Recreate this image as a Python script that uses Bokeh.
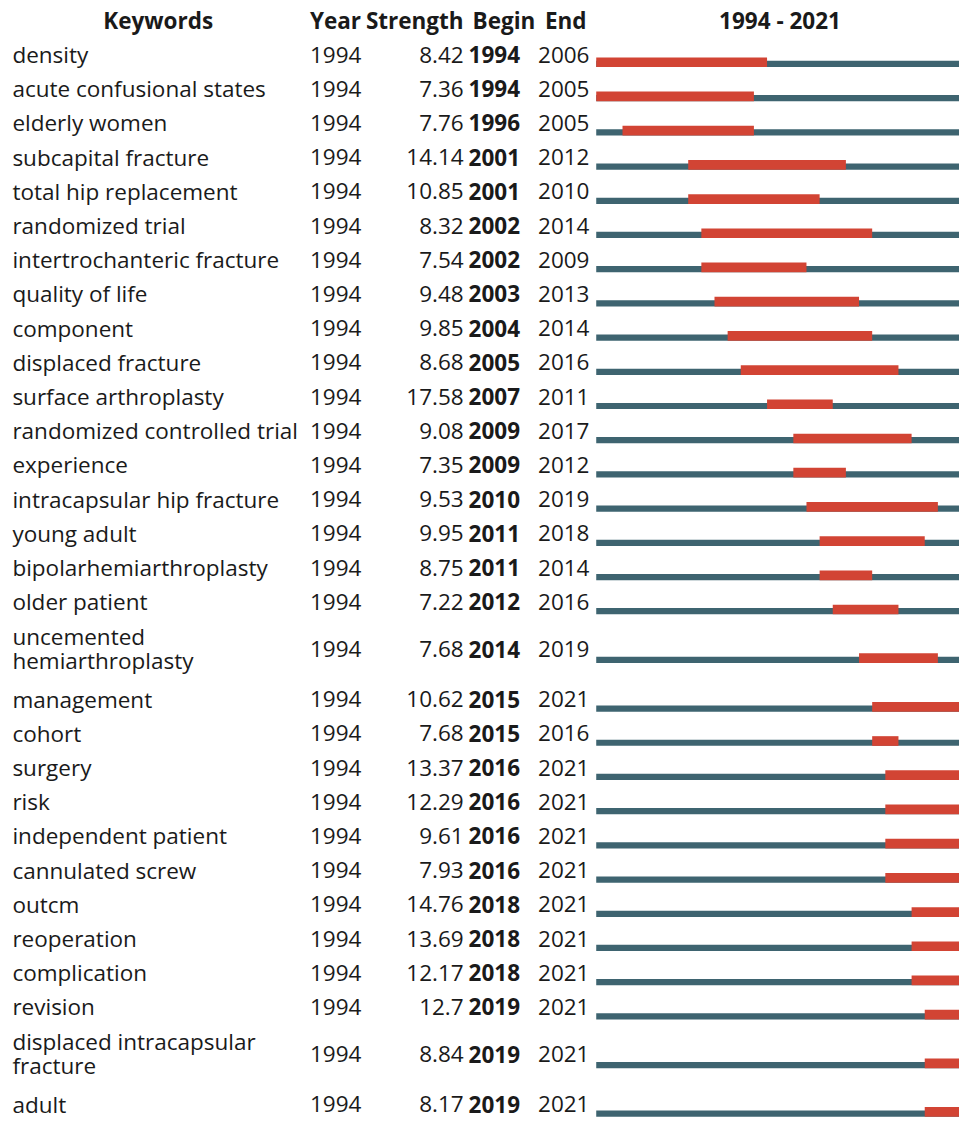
from bokeh.plotting import figure
from bokeh.models import Range1d, ColumnDataSource
from bokeh.core.properties import value
from bokeh.embed import file_html
from bokeh.resources import INLINE

# ---------------- data ----------------
keywords = [
    "density", "acute confusional states", "elderly women", "subcapital fracture",
    "total hip replacement", "randomized trial", "intertrochanteric fracture",
    "quality of life", "component", "displaced fracture", "surface arthroplasty",
    "randomized controlled trial", "experience", "intracapsular hip fracture",
    "young adult", "bipolarhemiarthroplasty", "older patient",
    "uncemented hemiarthroplasty", "management", "cohort", "surgery", "risk",
    "independent patient", "cannulated screw", "outcm", "reoperation",
    "complication", "revision", "displaced intracapsular fracture", "adult",
]
year = [1994] * 30
strength = [8.42, 7.36, 7.76, 14.14, 10.85, 8.32, 7.54, 9.48, 9.85, 8.68, 17.58,
            9.08, 7.35, 9.53, 9.95, 8.75, 7.22, 7.68, 10.62, 7.68, 13.37, 12.29,
            9.61, 7.93, 14.76, 13.69, 12.17, 12.7, 8.84, 8.17]
begin = [1994, 1994, 1996, 2001, 2001, 2002, 2002, 2003, 2004, 2005, 2007,
         2009, 2009, 2010, 2011, 2011, 2012, 2014, 2015, 2015, 2016, 2016,
         2016, 2016, 2018, 2018, 2018, 2019, 2019, 2019]
end = [2006, 2005, 2005, 2012, 2010, 2014, 2009, 2013, 2014, 2016, 2011,
       2017, 2012, 2019, 2018, 2014, 2016, 2019, 2021, 2016, 2021, 2021,
       2021, 2021, 2021, 2021, 2021, 2021, 2021, 2021]
wrapped = {
    "uncemented hemiarthroplasty": ["uncemented", "hemiarthroplasty"],
    "displaced intracapsular fracture": ["displaced intracapsular", "fracture"],
}
period_first, period_last = 1994, 2021
headers = ["Keywords", "Year", "Strength", "Begin", "End"]

# ---------------- layout (in reference-pixel units, scaled to fit) ----------------
REF_W, REF_H = 967, 1131
W, H = 959, 1119
PXY = 13.25             # reference pixels per year
X0 = 600.7              # reference pixel of period start
xmin = period_first - X0 / PXY
FONT = "Open Sans"
FS = "22.5px"
RED = "#d24434"
TEAL = "#3e6470"
TS = 8.5                # text vertical correction


def X(px):
    return xmin + px / PXY


p = figure(width=W, height=H, x_range=Range1d(xmin, xmin + REF_W / PXY),
           y_range=Range1d(REF_H, 0), output_backend="svg", toolbar_location=None,
           min_border=0)
p.axis.visible = False
p.grid.visible = False
p.outline_line_color = None
p.background_fill_color = "white"
p.border_fill_color = "white"

SINGLE, DOUBLE = 34.57, 63.8
heights = [DOUBLE if k in wrapped else SINGLE for k in keywords]
bottoms = []
b = 67.3
for i, h in enumerate(heights):
    if i > 0:
        b += (heights[i - 1] + h) / 2
    bottoms.append(b)
baselines = [v - (5.5 if k in wrapped else 4.2) - TS for v, k in zip(bottoms, keywords)]

# bars
src = ColumnDataSource(dict(
    first=[period_first] * len(keywords),
    last=[period_last + 1] * len(keywords),
    begin=begin,
    stop=[e + 1 for e in end],
    bottom=bottoms,
    teal_top=[v - 6.3 for v in bottoms],
    red_top=[v - 9.8 for v in bottoms],
))
p.quad(left="first", right="last", bottom="bottom", top="teal_top", source=src,
       fill_color=TEAL, line_color=None)
p.quad(left="begin", right="stop", bottom="bottom", top="red_top", source=src,
       fill_color=RED, line_color=None)

# keyword text
kx, ky, kt = [], [], []
for k, bl in zip(keywords, baselines):
    if k in wrapped:
        a, c = wrapped[k]
        kx += [X(12), X(12)]
        ky += [bl - 12.6, bl + 11.7]
        kt += [a, c]
    else:
        kx.append(X(12)); ky.append(bl); kt.append(k)
common = dict(text_font=value(FONT), text_font_size=FS, text_color="#1a1a1a",
              text_baseline="alphabetic")
p.text(x=kx, y=ky, text=kt, text_align="left", **common)
p.text(x=[X(312)] * len(year), y=baselines, text=[str(v) for v in year],
       text_align="left", **common)
p.text(x=[X(467)] * len(strength), y=baselines, text=[f"{v:g}" for v in strength],
       text_align="right", **common)
p.text(x=[X(472)] * len(begin), y=baselines, text=[str(v) for v in begin],
       text_align="left", text_font_style="bold", **common)
p.text(x=[X(542)] * len(end), y=baselines, text=[str(v) for v in end],
       text_align="left", **common)

# headers
hy = 28.3 - TS
p.text(x=[X(159)], y=[hy], text=[headers[0]], text_align="center",
       text_font_style="bold", **common)
p.text(x=[X(312)], y=[hy], text=[headers[1]], text_align="left",
       text_font_style="bold", **common)
p.text(x=[X(467)], y=[hy], text=[headers[2]], text_align="right",
       text_font_style="bold", **common)
p.text(x=[X(476), X(549)], y=[hy] * 2, text=headers[3:],
       text_align="left", text_font_style="bold", **common)
p.text(x=[X(786)], y=[hy], text=[f"{period_first} - {period_last}"],
       text_align="center", text_font_style="bold", **common)

open("out.html", "w").write(file_html(p, INLINE))
